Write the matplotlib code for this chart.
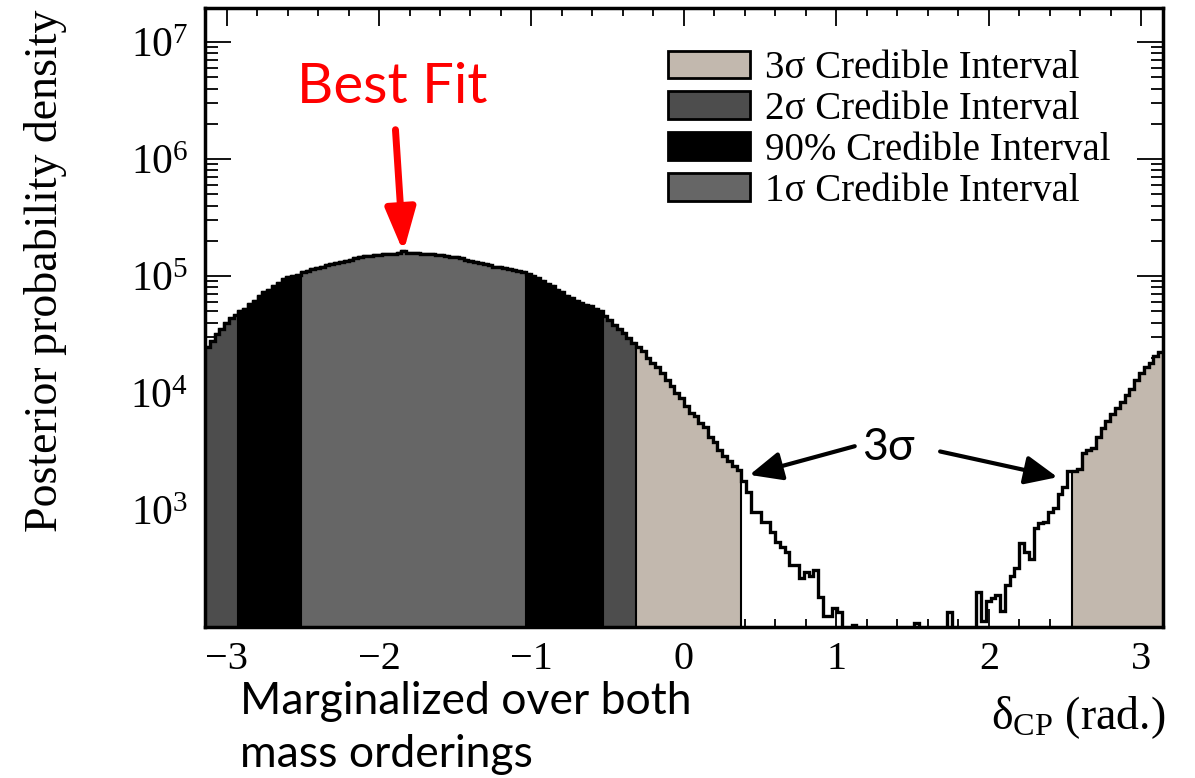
import numpy as np
import matplotlib.pyplot as plt
from matplotlib.patches import Patch
from matplotlib.ticker import FixedLocator, LogLocator, MultipleLocator, NullFormatter

serif = ['Liberation Serif', 'DejaVu Serif']
plt.rcParams['font.family'] = serif
plt.rcParams['mathtext.fontset'] = 'custom'
plt.rcParams['mathtext.rm'] = 'Liberation Serif'
plt.rcParams['mathtext.it'] = 'Liberation Serif:italic'

# log10 posterior density, 200 equal bins over [-pi, pi]; nan = empty bin
log_density = [
    4.39, 4.44, 4.50, 4.55, 4.60, 4.64, 4.67, 4.70, 4.72, 4.76,
    4.79, 4.83, 4.86, 4.88, 4.91, 4.94, 4.97, 4.99, 5.00, 5.01,
    5.03, 5.04, 5.06, 5.07, 5.08, 5.09, 5.10, 5.11, 5.12, 5.13,
    5.14, 5.15, 5.16, 5.17, 5.17, 5.18, 5.18, 5.19, 5.19, 5.19,
    5.20, 5.21, 5.20, 5.20, 5.20, 5.19, 5.19, 5.19, 5.18, 5.18,
    5.17, 5.16, 5.16, 5.15, 5.14, 5.13, 5.12, 5.11, 5.10, 5.09,
    5.08, 5.08, 5.07, 5.06, 5.05, 5.04, 5.03, 5.02, 5.00, 4.98,
    4.96, 4.93, 4.91, 4.88, 4.86, 4.83, 4.81, 4.79, 4.77, 4.75,
    4.74, 4.72, 4.70, 4.66, 4.62, 4.58, 4.55, 4.51, 4.47, 4.43,
    4.39, 4.36, 4.30, 4.26, 4.22, 4.17, 4.11, 4.06, 4.00, 3.96,
    3.89, 3.83, 3.80, 3.74, 3.71, 3.62, 3.58, 3.51, 3.46, 3.42,
    3.38, 3.34, 3.25, 3.15, 2.98, 2.98, 2.90, 2.90, 2.81, 2.73,
    2.68, 2.64, 2.53, 2.53, 2.42, 2.47, 2.44, 2.49, 2.26, 2.09,
    2.09, 2.16, 2.13, np.nan, np.nan, 2.02, np.nan, np.nan, np.nan, np.nan,
    np.nan, np.nan, np.nan, np.nan, np.nan, np.nan, np.nan, np.nan, 2.03, np.nan,
    np.nan, np.nan, np.nan, np.nan, np.nan, 2.13, np.nan, np.nan, np.nan, np.nan,
    np.nan, 2.30, 2.05, 2.22, 2.25, 2.27, 2.14, 2.36, 2.44, 2.50,
    2.72, 2.64, 2.58, 2.85, 2.89, 2.90, 2.98, 3.02, 3.14, 3.20,
    3.33, 3.33, 3.35, 3.49, 3.51, 3.53, 3.62, 3.70, 3.76, 3.82,
    3.87, 3.92, 3.98, 4.03, 4.11, 4.17, 4.22, 4.26, 4.32, 4.35,
]

# credible intervals in delta_CP (rad.), drawn back to front
interval_labels = ['3σ Credible Interval', '2σ Credible Interval',
                   '90% Credible Interval', '1σ Credible Interval']
interval_ranges = [
    [(-np.pi, 0.377), (2.545, np.pi)],
    [(-np.pi, -0.314)],
    [(-2.922, -0.534)],
    [(-2.513, -1.037)],
]
interval_colors = ['#c2b8ae', '#4d4d4d', '#000000', '#666666']

best_fit = -1.84

logd = np.array(log_density)
# empty bins sit below the axis floor
density = np.where(np.isnan(logd), 1.0, 10.0 ** np.nan_to_num(logd))
edges = np.linspace(-np.pi, np.pi, len(density) + 1)
centers = 0.5 * (edges[:-1] + edges[1:])

fig = plt.figure(figsize=(11.95, 7.78), dpi=100)
ax = fig.add_axes([0.1715, 0.1941, 0.8017, 0.7956])
ax.set_yscale('log')

for ranges, color in zip(interval_ranges, interval_colors):
    for lo, hi in ranges:
        idx = np.where((centers > lo) & (centers < hi))[0]
        i0, i1 = idx[0], idx[-1]
        x = edges[i0:i1 + 2]
        y = np.append(density[i0:i1 + 1], density[i1])
        ax.fill_between(x, y, 1.0, step='post', facecolor=color,
                        edgecolor='black', linewidth=1.5, zorder=2)

ax.stairs(density, edges, baseline=None, color='black', linewidth=2.4, zorder=3)

ax.set_xlim(-np.pi, np.pi)
ax.set_ylim(100, 1.95e7)

ax.xaxis.set_major_locator(FixedLocator([-3, -2, -1, 0, 1, 2, 3]))
ax.xaxis.set_minor_locator(MultipleLocator(0.2))
ax.set_xticklabels(['−3', '−2', '−1', '0', '1', '2', '3'])
ax.yaxis.set_major_locator(FixedLocator([1e3, 1e4, 1e5, 1e6, 1e7]))
ax.yaxis.set_minor_locator(LogLocator(base=10, subs=np.arange(2, 10)))
ax.yaxis.set_minor_formatter(NullFormatter())
ax.set_yticklabels([r'$10^{3}$', r'$10^{4}$', r'$10^{5}$', r'$10^{6}$', r'$10^{7}$'])

ax.tick_params(which='both', direction='in', top=True, right=True, width=1.3)
ax.tick_params(axis='y', which='major', length=19, labelsize=30, pad=12)
ax.tick_params(axis='y', which='minor', length=9)
ax.tick_params(axis='x', which='major', length=13, labelsize=29, pad=10)
ax.tick_params(axis='x', which='minor', length=6)
for s in ax.spines.values():
    s.set_linewidth(2.5)
    s.set_zorder(5)

fig.text(46 / 1195, 1 - 271 / 778, 'Posterior probability density',
         fontsize=33, family=serif, rotation=90, ha='center', va='center')
fig.text(1165 / 1195, 1 - 718 / 778, r'δ$_{\mathrm{CP}}$ (rad.)',
         fontsize=33, family=serif, ha='right', va='center')

handles = [Patch(facecolor=c, edgecolor='black', linewidth=2) for c in interval_colors]
ax.legend(handles, interval_labels, loc='upper left',
          bbox_to_anchor=(668 / 1195, 1 - 50 / 778), bbox_transform=fig.transFigure,
          frameon=False, fontsize=28, handlelength=2.1, handleheight=0.72,
          handletextpad=0.4, labelspacing=0.1, borderpad=0, borderaxespad=0)

# annotations
sans = 'Lato'
ax.annotate('Best Fit', xy=(best_fit, 1.6e5), xytext=(-1.91, 10 ** 6.61),
            color='red', fontsize=40.5, family=sans, ha='center', va='center',
            arrowprops=dict(arrowstyle='-|>,head_width=0.35,head_length=1.0',
                            color='red', lw=5, mutation_scale=26,
                            shrinkA=10, shrinkB=0))
ax.text(1.34, 10 ** 3.53, '3σ', fontsize=32, family=sans, ha='center', va='center')
for tip in [(0.43, 10 ** 3.30), (2.45, 10 ** 3.28)]:
    start = (1.12, 10 ** 3.545) if tip[0] < 1.34 else (1.68, 10 ** 3.50)
    ax.annotate('', xy=tip, xytext=start,
                arrowprops=dict(arrowstyle='-|>,head_width=0.4,head_length=0.9',
                                color='black', lw=3, mutation_scale=22,
                                shrinkA=0, shrinkB=0))

fig.text(240 / 1195, 1 - 728 / 778, 'Marginalized over both\nmass orderings',
         fontsize=32, family=sans, ha='left', va='center', linespacing=1.38)

fig.savefig('out.png', dpi=100)
